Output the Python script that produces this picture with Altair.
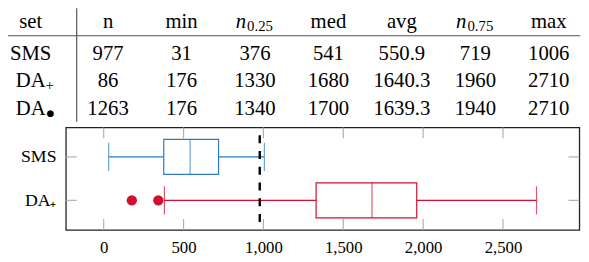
import altair as alt
import pandas as pd

# ---------------- data ----------------
# box plot (lower part)
box_sets = ["SMS", "DA₊"]
box_lo = [31, 380]
box_q1 = [376, 1330]
box_med = [541, 1680]
box_q3 = [719, 1960]
box_hi = [1006, 2710]
box_colors = ["#2a7bbf", "#cf1030"]
outlier_set = ["DA₊", "DA₊"]
outlier_val = [176, 342]
threshold = [977]
x_ticks = [0, 500, 1000, 1500, 2000, 2500]
x_domain = [-237, 2978]

# table (upper part)
col_keys = ["set", "n", "min", "q25", "med", "avg", "q75", "max"]
col_heads = ["set", "n", "min", "", "med", "avg", "", "max"]
sub_cols = ["q25", "q75"]
sub_texts = ["0.25", "0.75"]
row_keys = ["hdr", "r0", "r1", "r2"]
tbl_set_main = ["SMS", "DA", "DA"]
tbl_set_sub = ["", "+", "●"]
tbl_n = [977, 86, 1263]
tbl_min = [31, 176, 176]
tbl_q25 = [376, 1330, 1340]
tbl_med = [541, 1680, 1700]
tbl_avg = [550.9, 1640.3, 1639.3]
tbl_q75 = [719, 1960, 1940]
tbl_max = [1006, 2710, 2710]

FONT = "Liberation Serif"
W, H = 521, 104

# ---------------- frames ----------------
box_df = pd.DataFrame({"set": box_sets, "lo": box_lo, "q1": box_q1, "med": box_med,
                       "q3": box_q3, "hi": box_hi})
out_df = pd.DataFrame({"set": outlier_set, "v": outlier_val})
thr_df = pd.DataFrame({"v": threshold})
tick_df = pd.DataFrame({"t": x_ticks})

cells = []
for c, h in zip(col_keys, col_heads):
    if h:
        cells.append({"col": c, "row": "hdr", "txt": h, "kind": "head"})
num_cols = {"n": tbl_n, "min": tbl_min, "q25": tbl_q25, "med": tbl_med,
            "avg": tbl_avg, "q75": tbl_q75, "max": tbl_max}
for i, r in enumerate(row_keys[1:]):
    cells.append({"col": "set", "row": r, "txt": tbl_set_main[i], "kind": "set"})
    if tbl_set_sub[i]:
        cells.append({"col": "set", "row": r, "txt": tbl_set_sub[i],
                      "kind": "plus" if tbl_set_sub[i] == "+" else "dot"})
    for c, vals in num_cols.items():
        v = vals[i]
        txt = f"{v:.1f}" if c == "avg" else f"{int(v)}"
        cells.append({"col": c, "row": r, "txt": txt, "kind": "num"})
for c, s in zip(sub_cols, sub_texts):
    cells.append({"col": c, "row": "hdr", "txt": "n", "kind": "ital"})
    cells.append({"col": c, "row": "hdr", "txt": s, "kind": "sub"})
tbl_df = pd.DataFrame(cells)

# ---------------- box plot ----------------
XS = alt.Scale(domain=x_domain, nice=False, zero=False)
YS = alt.Scale(type="point", domain=box_sets, padding=0.68)
CS = alt.Scale(domain=box_sets, range=box_colors)
XAX = alt.Axis(values=x_ticks, format=",d", ticks=False, domain=False, grid=False,
               labelFont=FONT, labelFontSize=17, labelColor="black", labelPadding=10)
YAX = alt.Axis(ticks=False, domain=False, grid=False, labelFont=FONT,
               labelFontSize=18, labelColor="black", labelPadding=10)


def xe(f):
    return alt.X(f"{f}:Q", scale=XS, axis=XAX, title=None)


ye = alt.Y("set:N", scale=YS, axis=YAX, title=None)
base = alt.Chart(box_df)

xt_top = alt.Chart(tick_df).mark_rule(color="#b0b0b0", strokeWidth=1.2).encode(
    x=xe("t"), y=alt.value(0), y2=alt.value(11))
xt_bot = alt.Chart(tick_df).mark_rule(color="#b0b0b0", strokeWidth=1.2).encode(
    x=xe("t"), y=alt.value(H - 11), y2=alt.value(H))
yt_l = base.mark_rule(color="#b0b0b0", strokeWidth=1.2).encode(
    y=ye, x=alt.value(0), x2=alt.value(11))
yt_r = base.mark_rule(color="#b0b0b0", strokeWidth=1.2).encode(
    y=ye, x=alt.value(W - 11), x2=alt.value(W))

wl = base.mark_rule(strokeWidth=1.2).encode(
    x=xe("lo"), x2="q1:Q", y=ye, color=alt.Color("set:N", scale=CS, legend=None))
wh = base.mark_rule(strokeWidth=1.2).encode(
    x=xe("q3"), x2="hi:Q", y=ye, color=alt.Color("set:N", scale=CS, legend=None))
box = base.mark_bar(size=35.5, fill="white", strokeWidth=1.2).encode(
    x=xe("q1"), x2="q3:Q", y=ye, stroke=alt.Stroke("set:N", scale=CS, legend=None))
med = base.mark_tick(size=35.5, thickness=1.2).encode(
    x=xe("med"), y=ye, color=alt.Color("set:N", scale=CS, legend=None))
cap_l = base.mark_tick(size=28.5, thickness=1.2).encode(
    x=xe("lo"), y=ye, color=alt.Color("set:N", scale=CS, legend=None))
cap_h = base.mark_tick(size=28.5, thickness=1.2).encode(
    x=xe("hi"), y=ye, color=alt.Color("set:N", scale=CS, legend=None))
outl = alt.Chart(out_df).mark_circle(size=110, opacity=1).encode(
    x=xe("v"), y=ye, color=alt.Color("set:N", scale=CS, legend=None))
dash = alt.Chart(thr_df).mark_rule(color="black", strokeWidth=2.4, strokeDash=[8, 8]).encode(
    x=xe("v"), y=alt.value(8), y2=alt.value(96))

box_group = alt.layer(xt_top, xt_bot, yt_l, yt_r, wl, wh, box, med, cap_l, cap_h, outl, dash)

# ---------------- table ----------------
TX = alt.Scale(type="point", domain=col_keys, range=[-31.7, 490], padding=0)
TY = alt.Scale(type="point", domain=row_keys, range=[-96, -13], padding=0)
tx = alt.X("col:N", scale=TX, axis=None)
ty = alt.Y("row:N", scale=TY, axis=None)
tb = alt.Chart(tbl_df)

FS = 21


def tlayer(kind, **kw):
    props = dict(font=FONT, fontSize=FS, color="black", baseline="alphabetic", align="center")
    props.update(kw)
    return tb.transform_filter(alt.datum.kind == kind).mark_text(**props).encode(
        x=tx, y=ty, text="txt:N")


head_main = tb.transform_filter(
    (alt.datum.kind == "head") & (alt.datum.col != "set")).mark_text(
    font=FONT, fontSize=FS, color="black", baseline="alphabetic", align="center", dy=-4.6
).encode(x=tx, y=ty, text="txt:N")
head_set = tb.transform_filter(
    (alt.datum.kind == "head") & (alt.datum.col == "set")).mark_text(
    font=FONT, fontSize=FS, color="black", baseline="alphabetic", align="center",
    dy=-4.6, dx=-4).encode(x=tx, y=ty, text="txt:N")
head_n = tlayer("ital", fontStyle="italic", align="right", dx=-9, dy=-4.6)
head_sub = tlayer("sub", fontSize=15, align="left", dx=-8, dy=-1.6)
body = tlayer("num")
set_main = tlayer("set", dx=-4)
set_plus = tlayer("plus", fontSize=15, align="left", dx=11, dy=3)
set_dot = tlayer("dot", font="DejaVu Sans", fontSize=9, align="left", dx=12, dy=1)

hline = alt.Chart(pd.DataFrame({"k": [0]})).mark_rule(color="#555", strokeWidth=1.2).encode(
    x=alt.value(-63.4), x2=alt.value(522), y=alt.value(-93))
vline = alt.Chart(pd.DataFrame({"k": [0]})).mark_rule(color="#555", strokeWidth=1.2).encode(
    x=alt.value(11), y=alt.value(-121), y2=alt.value(-5.6))

table_group = alt.layer(head_main, head_set, head_n, head_sub, body, set_main,
                        set_plus, set_dot, hline, vline)

chart = alt.layer(box_group, table_group).resolve_scale(
    x="independent", y="independent"
).properties(
    width=W, height=H,
    autosize=alt.AutoSizeParams(type="none"),
    padding={"left": 58.7, "top": 119.3, "right": 1.7, "bottom": 27},
).configure_view(stroke="#222", strokeWidth=1.3)

chart.save("out.html", embed_options={"renderer": "svg", "actions": False})
